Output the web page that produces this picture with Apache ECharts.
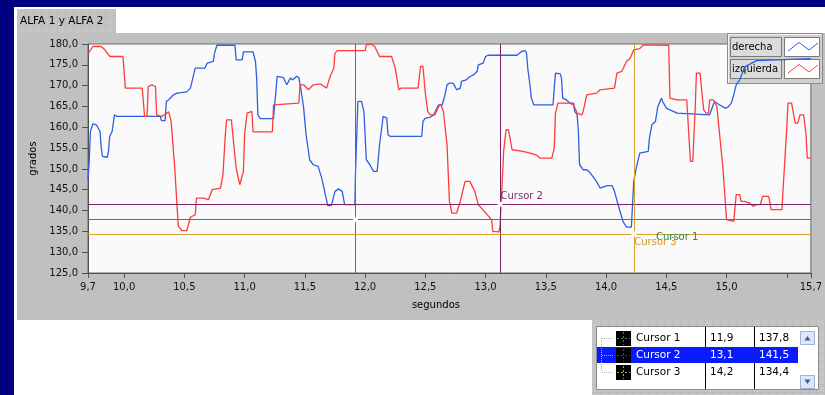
<!DOCTYPE html>
<html>
<head>
<meta charset="utf-8">
<script src="https://cdn.jsdelivr.net/npm/echarts@6/dist/echarts.min.js"></script>
<style>
  html, body { margin: 0; padding: 0; background: #ffffff; }
  #chart { width: 825px; height: 395px; }
</style>
</head>
<body>
<div id="chart"></div>
<script>
// Ángulo derecho (grados) frente al tiempo (segundos)
const tiempoDerecha = [
  9.70, 9.71, 9.72, 9.74, 9.77, 9.80, 9.81, 9.82, 9.86, 9.87, 9.88, 9.90, 9.91, 9.92, 9.94,
  10.30, 10.31, 10.34, 10.35, 10.37, 10.41, 10.44, 10.52, 10.55, 10.57, 10.59, 10.67, 10.69,
  10.74, 10.75, 10.77, 10.92, 10.93, 10.98, 10.99, 11.07, 11.09, 11.10, 11.11, 11.13, 11.24,
  11.25, 11.27, 11.32, 11.35, 11.36, 11.38, 11.40, 11.43, 11.45, 11.47, 11.49, 11.51, 11.54,
  11.57, 11.61, 11.64, 11.67, 11.69, 11.72, 11.75, 11.78, 11.81, 11.83, 11.915, 11.92, 11.94,
  11.97, 11.99, 12.00, 12.01, 12.04, 12.07, 12.10, 12.12, 12.15, 12.18, 12.19, 12.21, 12.47,
  12.48, 12.50, 12.54, 12.57, 12.61, 12.64, 12.66, 12.68, 12.70, 12.73, 12.76, 12.79, 12.80,
  12.84, 12.87, 12.90, 12.93, 12.94, 12.98, 13.00, 13.02, 13.26, 13.30, 13.33, 13.34, 13.35,
  13.37, 13.38, 13.40, 13.56, 13.57, 13.58, 13.62, 13.63, 13.64, 13.67, 13.70, 13.73, 13.74,
  13.76, 13.77, 13.78, 13.81, 13.84, 13.87, 13.89, 13.92, 13.95, 14.01, 14.05, 14.07, 14.10,
  14.14, 14.17, 14.21, 14.23, 14.25, 14.28, 14.35, 14.36, 14.38, 14.41, 14.43, 14.46, 14.47,
  14.50, 14.53, 14.59, 14.86, 14.89, 14.90, 14.94, 14.99, 15.01, 15.04, 15.06, 15.08, 15.11,
  15.15, 15.25, 15.70
];
const gradosDerecha = [
  147.4, 151.8, 159.0, 160.8, 160.6, 159.0, 155.0, 153.0, 152.8, 154.2, 157.8, 159.0, 161.0, 163.0, 162.6,
  162.6, 161.6, 161.6, 166.2, 166.6, 167.8, 168.2, 168.5, 169.4, 171.8, 174.2, 174.2, 175.4,
  175.8, 177.8, 179.7, 179.7, 176.2, 176.2, 178.1, 178.1, 175.8, 171.8, 163.0, 162.1, 162.1,
  165.4, 172.2, 172.0, 170.2, 169.8, 171.8, 171.4, 172.2, 172.0, 168.6, 164.6, 158.2, 152.2,
  151.0, 150.6, 147.8, 143.8, 141.2, 141.2, 144.6, 145.2, 144.6, 141.4, 141.4, 148.6, 166.2,
  166.2, 163.8, 158.2, 152.2, 151.0, 149.4, 149.4, 155.8, 162.6, 162.2, 158.2, 157.8, 157.8,
  161.4, 162.2, 162.4, 163.0, 165.4, 165.4, 167.4, 170.2, 170.6, 170.6, 169.0, 169.4, 171.0,
  171.4, 172.2, 172.6, 173.4, 175.0, 175.4, 177.0, 177.3, 177.3, 178.2, 178.4, 177.8, 174.2,
  169.8, 167.0, 165.4, 165.4, 169.4, 173.0, 172.8, 171.8, 167.0, 166.6, 165.8, 165.8, 163.8,
  163.0, 159.0, 151.0, 149.8, 149.8, 149.0, 148.2, 147.0, 145.4, 146.0, 146.0, 144.6, 141.4,
  137.4, 136.0, 136.0, 147.0, 150.2, 153.8, 154.2, 157.4, 160.6, 161.4, 165.0, 167.0, 166.2,
  164.6, 164.2, 163.4, 163.0, 165.4, 166.2, 165.4, 164.6, 164.8, 165.8, 167.8, 170.2, 171.4,
  174.5, 176.0, 176.5
];

// Ángulo izquierdo (grados) frente al tiempo (segundos)
const tiempoIzquierda = [
  9.70, 9.74, 9.81, 9.84, 9.88, 9.99, 10.01, 10.15, 10.17, 10.19, 10.20, 10.23, 10.26, 10.27,
  10.31, 10.37, 10.38, 10.39, 10.42, 10.44, 10.45, 10.48, 10.52, 10.55, 10.59, 10.60, 10.66,
  10.70, 10.73, 10.80, 10.82, 10.84, 10.85, 10.86, 10.89, 10.91, 10.93, 10.96, 10.99, 11.00,
  11.02, 11.06, 11.07, 11.23, 11.24, 11.45, 11.46, 11.49, 11.53, 11.57, 11.63, 11.68, 11.69,
  11.71, 11.74, 11.75, 11.77, 12.00, 12.01, 12.05, 12.08, 12.12, 12.22, 12.25, 12.28, 12.30,
  12.44, 12.46, 12.48, 12.50, 12.52, 12.54, 12.58, 12.61, 12.63, 12.65, 12.68, 12.70, 12.72,
  12.76, 12.79, 12.83, 12.87, 12.91, 12.94, 12.99, 13.05, 13.06, 13.11, 13.12, 13.13, 13.15,
  13.17, 13.19, 13.22, 13.31, 13.37, 13.42, 13.45, 13.55, 13.57, 13.58, 13.60, 13.70, 13.73,
  13.76, 13.80, 13.81, 13.84, 13.92, 13.95, 14.07, 14.09, 14.13, 14.17, 14.20, 14.23, 14.28,
  14.31, 14.52, 14.53, 14.59, 14.67, 14.70, 14.72, 14.74, 14.75, 14.78, 14.81, 14.83, 14.85,
  14.86, 14.89, 14.92, 14.94, 14.97, 15.00, 15.06, 15.08, 15.11, 15.12, 15.15, 15.19, 15.22,
  15.25, 15.28, 15.30, 15.35, 15.37, 15.46, 15.47, 15.50, 15.51, 15.54, 15.57, 15.59, 15.61,
  15.64, 15.66, 15.67, 15.70
];
const gradosIzquierda = [
  177.6, 179.4, 179.4, 178.6, 177.0, 177.0, 169.4, 169.4, 162.6, 162.6, 169.8, 170.2, 169.8, 163.0,
  162.6, 163.7, 163.7, 161.4, 150.2, 140.6, 136.2, 135.2, 135.2, 138.4, 139.0, 143.0, 143.0,
  142.6, 145.0, 145.4, 148.6, 158.2, 161.8, 162.2, 161.8, 155.8, 150.2, 146.2, 149.4, 158.2,
  163.4, 163.8, 158.9, 158.9, 165.4, 165.8, 170.2, 170.2, 169.0, 170.2, 170.4, 169.4, 169.8,
  172.2, 174.2, 177.8, 178.4, 178.4, 179.8, 180.0, 179.4, 177.0, 177.0, 174.2, 169.0, 169.4,
  169.4, 174.6, 174.6, 168.2, 163.8, 163.0, 163.0, 165.0, 165.4, 163.8, 155.8, 142.2, 139.4,
  139.4, 142.2, 147.0, 147.0, 144.6, 141.4, 139.8, 137.8, 135.0, 134.9, 136.2, 142.2, 154.2,
  159.4, 159.4, 154.6, 154.2, 153.8, 153.4, 152.6, 152.6, 155.0, 163.4, 165.8, 165.8, 165.4,
  163.4, 163.0, 163.8, 167.8, 168.2, 169.0, 169.4, 173.0, 173.4, 175.8, 176.6, 178.6, 178.9,
  179.8, 179.7, 167.0, 166.6, 166.6, 151.8, 151.8, 164.6, 173.0, 173.0, 164.2, 163.4, 163.4,
  166.6, 166.6, 165.0, 159.0, 150.2, 137.8, 137.4, 143.8, 143.8, 142.2, 142.2, 141.8, 141.0,
  141.4, 141.4, 143.4, 143.4, 140.2, 140.2, 145.4, 159.8, 165.8, 165.8, 161.0, 161.0, 163.0,
  163.0, 158.2, 152.6, 152.6
];

// Cursores: nombre, posición (segundos) y valor (grados)
const cursorNombres = ['Cursor 1', 'Cursor 2', 'Cursor 3'];
const cursorX = [11.92, 13.12, 14.23];
const cursorY = [137.8, 141.5, 134.4];

// Ejes
const xTicks = [9.7, 10.0, 10.5, 11.0, 11.5, 12.0, 12.5, 13.0, 13.5, 14.0, 14.5, 15.0, 15.5, 15.7];
const xLabels = [9.7, 10.0, 10.5, 11.0, 11.5, 12.0, 12.5, 13.0, 13.5, 14.0, 14.5, 15.0, 15.7];
const yMin = 125, yMax = 180, yStep = 5;

const FONT = 'DejaVu Sans';
const fmt1 = v => v.toFixed(1).replace('.', ',');
const colorDerecha = '#2c5fe3';
const colorIzquierda = '#ff3b3b';
const cursorLinea = ['#2f8f50', '#7d1f66', '#d9a030'];
const cursorTexto = ['#23874a', '#7d2a6a', '#d49a20'];
// posición de cada etiqueta respecto a su cruce (px)
const cursorEtiquetaPos = [[303, 20], [3, -5], [3, 11]];

const pares = (ts, vs) => ts.map((t, i) => [t, vs[i]]);

const chart = echarts.init(document.getElementById('chart'), null, { renderer: 'canvas' });

// Serie de cada cursor: línea vertical + horizontal y marca en el cruce
const cursorSeries = cursorNombres.map((nombre, i) => ({
  name: nombre,
  type: 'line',
  data: [],
  z: 5,
  silent: true,
  markLine: {
    silent: true,
    symbol: 'none',
    animation: false,
    label: { show: false },
    lineStyle: { color: cursorLinea[i], width: 1, type: 'solid' },
    emphasis: { disabled: true },
    data: [{ xAxis: cursorX[i] }, { yAxis: cursorY[i] }]
  },
  markPoint: {
    silent: true,
    animation: false,
    symbol: 'rect',
    symbolSize: 5,
    itemStyle: { color: '#ffffff' },
    label: {
      show: true,
      formatter: nombre,
      position: cursorEtiquetaPos[i],
      align: 'left',
      verticalAlign: 'middle',
      color: cursorTexto[i],
      fontFamily: FONT,
      fontSize: 10
    },
    data: [{ coord: [cursorX[i], cursorY[i]] }]
  }
}));

// Textura de rejilla gris de los marcos
function textura(x, y, w, h, paso) {
  const out = [{ type: 'rect', shape: { x, y, width: w, height: h }, style: { fill: '#c4c4c4' } }];
  for (let gx = x + paso; gx < x + w; gx += paso) {
    out.push({ type: 'line', shape: { x1: gx + 0.5, y1: y, x2: gx + 0.5, y2: y + h }, style: { stroke: '#bbbbbb', lineWidth: 1 } });
  }
  for (let gy = y + paso; gy < y + h; gy += paso) {
    out.push({ type: 'line', shape: { x1: x, y1: gy + 0.5, x2: x + w, y2: gy + 0.5 }, style: { stroke: '#bbbbbb', lineWidth: 1 } });
  }
  return out;
}

// Pestaña superior
function pestana() {
  const children = textura(17, 9, 99, 24, 8);
  children.push({ type: 'text', x: 20, y: 21.5,
    style: { text: 'ALFA 1 y ALFA 2', fill: '#000', fontFamily: FONT, fontSize: 10.5, verticalAlign: 'middle' } });
  return { type: 'group', z: 1, children };
}

// Cuadro de leyenda
function leyenda() {
  const filas = [
    { txt: 'derecha', col: colorDerecha },
    { txt: 'izquierda', col: colorIzquierda }
  ];
  const children = [
    { type: 'rect', shape: { x: 0.5, y: 0.5, width: 95, height: 50 },
      style: { fill: '#d0d0d0', stroke: '#8c8c8c', lineWidth: 1 } },
    { type: 'polyline', shape: { points: [[1.5, 49.5], [1.5, 1.5], [94.5, 1.5]] },
      style: { stroke: '#f4f4f4', fill: null, lineWidth: 1 } }
  ];
  filas.forEach((f, k) => {
    const y0 = 4 + k * 22;
    children.push(
      { type: 'rect', shape: { x: 3.5, y: y0 + 0.5, width: 51, height: 19 },
        style: { fill: '#dcdcdc', stroke: '#7a7a7a', lineWidth: 1 } },
      { type: 'text', x: 5, y: y0 + 10.5,
        style: { text: f.txt, fill: '#000', fontFamily: FONT, fontSize: 10, verticalAlign: 'middle' } },
      { type: 'rect', shape: { x: 57.5, y: y0 + 0.5, width: 35, height: 19 },
        style: { fill: '#ffffff', stroke: '#7a7a7a', lineWidth: 1 } },
      { type: 'polyline', shape: { points: [[61, y0 + 14], [72, y0 + 5.5], [82, y0 + 13], [91, y0 + 6]] },
        style: { stroke: f.col, fill: null, lineWidth: 1 } }
    );
  });
  return { type: 'group', x: 727, y: 33, z: 100, children };
}

// Tabla de cursores
function tablaCursores() {
  const children = [
    ...textura(0, 0, 233, 75, 8),
    { type: 'rect', shape: { x: 4.5, y: 6.5, width: 222, height: 63 },
      style: { fill: '#ffffff', stroke: '#8a8a8a', lineWidth: 1 } },
    { type: 'line', shape: { x1: 113.5, y1: 7, x2: 113.5, y2: 69 }, style: { stroke: '#000', lineWidth: 1 } },
    { type: 'line', shape: { x1: 162.5, y1: 7, x2: 162.5, y2: 69 }, style: { stroke: '#000', lineWidth: 1 } },
    // barra de desplazamiento
    { type: 'rect', shape: { x: 206, y: 7, width: 20, height: 62 }, style: { fill: '#ffffff' } },
    { type: 'rect', shape: { x: 208.5, y: 11.5, width: 14, height: 13 },
      style: { fill: '#dde6f6', stroke: '#9fb3d8', lineWidth: 1 } },
    { type: 'polygon', shape: { points: [[212.5, 20.5], [215.5, 16], [218.5, 20.5]] }, style: { fill: '#3c5a96' } },
    { type: 'rect', shape: { x: 208.5, y: 55.5, width: 14, height: 13 },
      style: { fill: '#dde6f6', stroke: '#9fb3d8', lineWidth: 1 } },
    { type: 'polygon', shape: { points: [[212.5, 59.5], [215.5, 64], [218.5, 59.5]] }, style: { fill: '#3c5a96' } }
  ];
  cursorNombres.forEach((nombre, i) => {
    const yc = 18 + i * 17;
    const sel = i === 1;
    if (sel) {
      children.push({ type: 'rect', shape: { x: 5, y: yc - 8, width: 201, height: 16 }, style: { fill: '#0a1aff' } });
    }
    const tc = sel ? '#ffffff' : '#000000';
    // líneas del árbol
    children.push({ type: 'line', shape: { x1: 10, y1: yc + 0.5, x2: 22, y2: yc + 0.5 },
      style: { stroke: sel ? '#9aa8ff' : '#b8b8b8', lineWidth: 1, lineDash: [1, 1] } });
    // icono del cursor
    children.push(
      { type: 'rect', shape: { x: 24, y: yc - 7, width: 15, height: 15 }, style: { fill: '#000' } },
      { type: 'line', shape: { x1: 25, y1: yc + 0.5, x2: 38, y2: yc + 0.5 },
        style: { stroke: cursorLinea[i], lineWidth: 1, lineDash: [2, 2] } },
      { type: 'line', shape: { x1: 31.5, y1: yc - 6, x2: 31.5, y2: yc + 7 },
        style: { stroke: cursorLinea[i], lineWidth: 1, lineDash: [2, 2] } },
      { type: 'text', x: 44, y: yc + 0.5, style: { text: nombre, fill: tc, fontFamily: FONT, fontSize: 10.5, verticalAlign: 'middle' } },
      { type: 'text', x: 118, y: yc + 0.5, style: { text: fmt1(cursorX[i]), fill: tc, fontFamily: FONT, fontSize: 10.5, verticalAlign: 'middle' } },
      { type: 'text', x: 167, y: yc + 0.5, style: { text: fmt1(cursorY[i]), fill: tc, fontFamily: FONT, fontSize: 10.5, verticalAlign: 'middle' } }
    );
  });
  children.push({ type: 'line', shape: { x1: 9.5, y1: 18, x2: 9.5, y2: 52 },
    style: { stroke: '#b8b8b8', lineWidth: 1, lineDash: [1, 1] } });
  return { type: 'group', x: 592, y: 320, z: 100, children };
}

const option = {
  backgroundColor: '#ffffff',
  animation: false,
  textStyle: { fontFamily: FONT },
  graphic: [
    // marco y panel
    { type: 'rect', z: -20, shape: { x: 0, y: 0, width: 825, height: 7 }, style: { fill: '#000080' } },
    { type: 'rect', z: -20, shape: { x: 0, y: 0, width: 14, height: 395 }, style: { fill: '#000080' } },
    { type: 'rect', z: -20, shape: { x: 17, y: 33, width: 808, height: 287 }, style: { fill: '#c0c0c0' } },
    pestana(),
    leyenda(),
    tablaCursores()
  ],
  grid: {
    left: 88, right: 14, top: 44, bottom: 122,
    show: true, backgroundColor: '#fafafa', borderColor: '#6a6a6a', borderWidth: 1
  },
  xAxis: {
    type: 'value',
    min: 9.7, max: 15.7,
    name: 'segundos',
    nameLocation: 'middle',
    nameGap: 27,
    nameTextStyle: { color: '#000', fontFamily: FONT, fontSize: 10, padding: [0, 27, 0, 0] },
    splitLine: { show: false },
    axisLine: { show: true, lineStyle: { color: '#505050', width: 1 } },
    axisTick: { show: true, inside: false, length: 5, customValues: xTicks, lineStyle: { color: '#505050' } },
    axisLabel: { customValues: xLabels, formatter: fmt1, color: '#111', fontFamily: FONT, fontSize: 10, margin: 9 }
  },
  yAxis: {
    type: 'value',
    min: yMin, max: yMax, interval: yStep,
    name: 'grados',
    nameLocation: 'middle',
    nameGap: 41,
    nameTextStyle: { color: '#000', fontFamily: FONT, fontSize: 10 },
    splitLine: { show: false },
    axisLine: { show: true, lineStyle: { color: '#505050', width: 1 } },
    axisTick: { show: true, inside: false, length: 6, lineStyle: { color: '#505050' } },
    axisLabel: { formatter: fmt1, color: '#111', fontFamily: FONT, fontSize: 10, margin: 10 }
  },
  series: [
    {
      name: 'derecha', type: 'line', data: pares(tiempoDerecha, gradosDerecha),
      showSymbol: false, symbol: 'none', z: 2,
      lineStyle: { color: colorDerecha, width: 1.3 }, itemStyle: { color: colorDerecha }
    },
    {
      name: 'izquierda', type: 'line', data: pares(tiempoIzquierda, gradosIzquierda),
      showSymbol: false, symbol: 'none', z: 3,
      lineStyle: { color: colorIzquierda, width: 1.3 }, itemStyle: { color: colorIzquierda }
    },
    ...cursorSeries
  ]
};

chart.setOption(option);
</script>
</body>
</html>
